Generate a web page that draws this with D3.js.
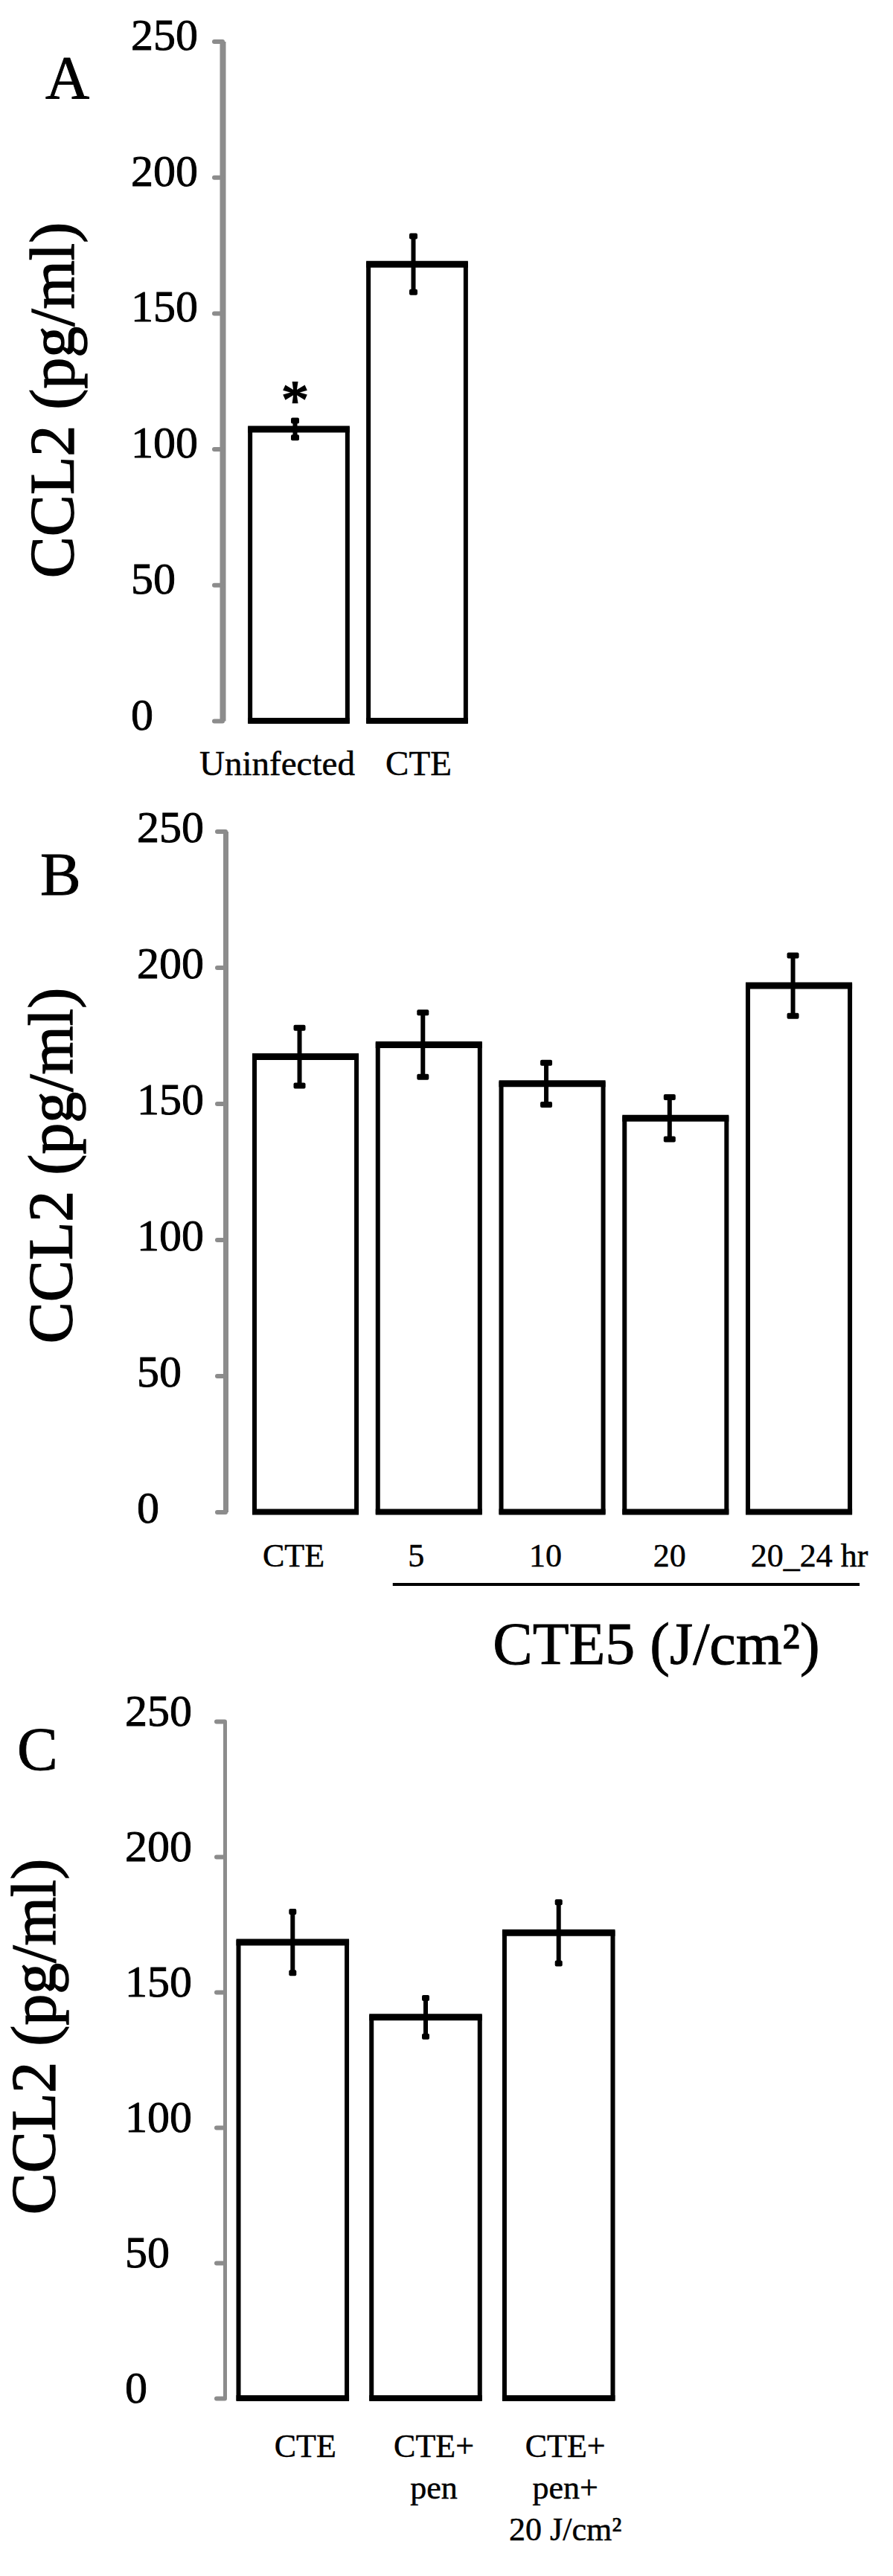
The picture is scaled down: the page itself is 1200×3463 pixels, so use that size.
<!DOCTYPE html>
<html>
<head>
<meta charset="utf-8">
<script src="https://cdn.jsdelivr.net/npm/d3@7"></script>
<style>
  body { margin: 0; background: #fff; }
  svg { display: block; }
  svg text { stroke: #000; stroke-width: 0.9px; }
</style>
</head>
<body>
<script>
// CCL2 panels A, B, C

const yTicks = [0, 50, 100, 150, 200, 250];
const yTitle = "CCL2 (pg/ml)";

// panel A
const labelsA = ["Uninfected", "CTE"];
const valuesA = [107.3, 168.0];
const errorsA = [3.1, 10.3];
const signifA = ["*", ""];

// panel B
const labelsB = ["CTE", "5", "10", "20", "20_24 hr"];
const valuesB = [167.2, 171.6, 157.3, 144.6, 193.3];
const errorsB = [10.6, 11.8, 7.7, 7.7, 11.1];
const groupTitleB = "CTE5 (J/cm²)";

// panel C (multi-line labels)
const labelsC = [["CTE"], ["CTE+", "pen"], ["CTE+", "pen+", "20 J/cm²"]];
const valuesC = [168.4, 140.7, 171.9];
const errorsC = [11.3, 7.1, 11.3];

const width = 1200;
const height = 3463;
const font = "'Liberation Serif', 'Times New Roman', serif";
const grey = "#8c8c8c";

const svg = d3.create("svg")
  .attr("width", width)
  .attr("height", height)
  .style("background", "#fff");

// layout of each panel
const panels = [
  {
    letter: "A", letterX: 61, letterY: 132,
    labels: labelsA.map(d => [d]), values: valuesA, errors: errorsA, signif: signifA,
    yTop: 55.5, yBottom: 969, axisX: 299, axisW: 8,
    range: [322, 640], padIn: 0.14, padOut: 0.07,
    errDx: -5, capW: 11,
    tickLabelX: 176, tickLabelDy: 11,
    titleX: 99, titleY: 538,
    labelY: 1042, labelSize: 47, lineH: 56, labelNudge: [-29, 2]
  },
  {
    letter: "B", letterX: 54, letterY: 1203,
    labels: labelsB.map(d => [d]), values: valuesB, errors: errorsB, signif: null,
    yTop: 1117.5, yBottom: 2032.6, axisX: 303, axisW: 7,
    range: [327.4, 1156.7], padIn: 0.137, padOut: 0.07,
    errDx: -8, capW: 16,
    tickLabelX: 184, tickLabelDy: 14,
    titleX: 97, titleY: 1567,
    labelY: 2106, labelSize: 44, lineH: 56, labelNudge: [-16, -17, -9, -8, 14]
  },
  {
    letter: "C", letterX: 23, letterY: 2379,
    labels: labelsC, values: valuesC, errors: errorsC, signif: null,
    yTop: 2314, yBottom: 3224, axisX: 302, axisW: 5,
    range: [305, 839], padIn: 0.152, padOut: 0.07,
    errDx: 0, capW: 10,
    tickLabelX: 168, tickLabelDy: 5,
    titleX: 74, titleY: 2738,
    labelY: 3303, labelSize: 44, lineH: 56, labelNudge: [17, 11, 9]
  }
];

panels.forEach((p, pi) => {
  const keys = p.labels.map(l => l.join(" "));

  const y = d3.scaleLinear()
    .domain([0, 250])
    .range([p.yBottom, p.yTop]);

  const x = d3.scaleBand()
    .domain(keys)
    .range(p.range)
    .paddingInner(p.padIn)
    .paddingOuter(p.padOut);

  const g = svg.append("g");

  // y axis (grey, ticks on the left)
  g.append("g")
    .attr("transform", "translate(" + p.axisX + ",0)")
    .call(d3.axisLeft(y).tickValues(yTicks).tickSize(11).tickSizeOuter(0))
    .call(a => a.select(".domain")
      .attr("stroke", grey)
      .attr("stroke-width", p.axisW))
    .call(a => a.selectAll(".tick line")
      .attr("stroke", grey)
      .attr("stroke-width", 6)
      .attr("stroke-linecap", "round"))
    .call(a => a.selectAll(".tick text")
      .attr("x", p.tickLabelX - p.axisX)
      .attr("y", p.tickLabelDy)
      .attr("dy", null)
      .attr("text-anchor", "start")
      .attr("fill", "#000")
      .style("font-family", font)
      .style("font-size", "60px"));

  // y title
  g.append("text")
    .attr("transform", "translate(" + p.titleX + "," + p.titleY + ") rotate(-90)")
    .attr("text-anchor", "middle")
    .style("font-family", font)
    .style("font-size", "84px")
    .style("stroke-width", "1.4px")
    .text(yTitle);

  // panel letter
  g.append("text")
    .attr("x", p.letterX)
    .attr("y", p.letterY)
    .style("font-family", font)
    .style("font-size", "82px")
    .text(p.letter);

  const rows = keys.map((k, i) => ({ key: k, lines: p.labels[i], v: p.values[i], e: p.errors[i], i }));

  // bars
  g.selectAll("rect.bar")
    .data(rows)
    .join("rect")
    .attr("class", "bar")
    .attr("x", d => x(d.key) + 3)
    .attr("width", x.bandwidth() - 6)
    .attr("y", d => y(d.v))
    .attr("height", d => y(0) - y(d.v))
    .attr("fill", "#fff")
    .attr("stroke", "#000")
    .attr("stroke-width", 6);

  // heavier top and bottom edges
  g.selectAll("line.top")
    .data(rows)
    .join("line")
    .attr("x1", d => x(d.key))
    .attr("x2", d => x(d.key) + x.bandwidth())
    .attr("y1", d => y(d.v))
    .attr("y2", d => y(d.v))
    .attr("stroke", "#000")
    .attr("stroke-width", 9);

  g.selectAll("line.bottom")
    .data(rows)
    .join("line")
    .attr("x1", d => x(d.key))
    .attr("x2", d => x(d.key) + x.bandwidth())
    .attr("y1", y(0))
    .attr("y2", y(0))
    .attr("stroke", "#000")
    .attr("stroke-width", 8);

  // error bars
  const ex = d => x(d.key) + x.bandwidth() / 2 + p.errDx;
  g.selectAll("line.err")
    .data(rows)
    .join("line")
    .attr("x1", ex).attr("x2", ex)
    .attr("y1", d => y(d.v + d.e))
    .attr("y2", d => y(d.v - d.e))
    .attr("stroke", "#000")
    .attr("stroke-width", 6);

  [1, -1].forEach(s => {
    g.selectAll("rect.cap" + s)
      .data(rows)
      .join("rect")
      .attr("x", d => ex(d) - p.capW / 2)
      .attr("y", d => y(d.v + s * d.e) - 4)
      .attr("width", p.capW)
      .attr("height", 8)
      .attr("rx", 2)
      .attr("fill", "#000");
  });

  // significance marks
  if (p.signif) {
    g.selectAll("text.sig")
      .data(rows.filter(d => p.signif[d.i]))
      .join("text")
      .attr("x", ex)
      .attr("y", d => y(d.v + d.e) - 3)
      .attr("text-anchor", "middle")
      .style("font-family", font)
      .style("font-size", "74px")
      .style("stroke-width", "2px")
      .text(d => p.signif[d.i]);
  }

  // category labels
  const lab = g.selectAll("text.cat")
    .data(rows)
    .join("text")
    .attr("text-anchor", "middle")
    .style("font-family", font)
    .style("font-size", p.labelSize + "px")
    .style("stroke-width", "0.5px");

  lab.selectAll("tspan")
    .data(d => d.lines.map((t, j) => ({ t, j, d })))
    .join("tspan")
    .attr("x", o => x(o.d.key) + x.bandwidth() / 2 + p.labelNudge[o.d.i])
    .attr("y", o => p.labelY + o.j * p.lineH)
    .text(o => o.t);

  // bracket + group title for panel B
  if (pi === 1) {
    g.append("line")
      .attr("x1", x("5") + 23)
      .attr("x2", x("20_24 hr") + x.bandwidth() + 10)
      .attr("y1", 2130)
      .attr("y2", 2130)
      .attr("stroke", "#000")
      .attr("stroke-width", 4);

    g.append("text")
      .attr("x", 882)
      .attr("y", 2237)
      .attr("text-anchor", "middle")
      .style("font-family", font)
      .style("font-size", "80px")
      .text(groupTitleB);
  }
});

document.body.appendChild(svg.node());
</script>
</body>
</html>
